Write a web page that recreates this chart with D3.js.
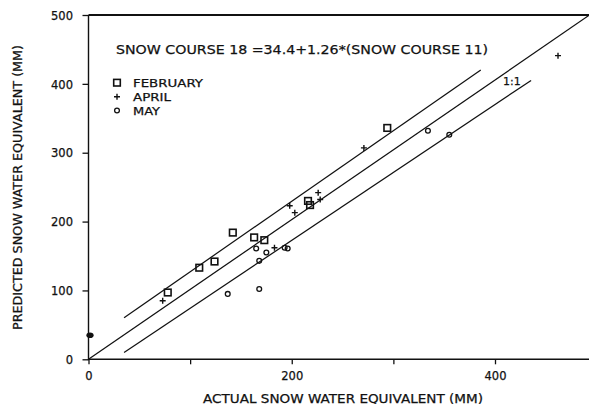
<!DOCTYPE html>
<html>
<head>
<meta charset="utf-8">
<script src="https://cdn.jsdelivr.net/npm/d3@7"></script>
<style>
  html, body { margin: 0; padding: 0; background: #fff; }
  svg { display: block; }
  text { font-family: "DejaVu Sans", sans-serif; fill: #111; stroke: #111; stroke-width: 0.25px; }
</style>
</head>
<body>
<svg id="chart" width="589" height="404"></svg>
<script>
// ---- data ----
const xTicks = [0, 100, 200, 300, 400];
const xTickLabels = ["0", "", "200", "", "400"];
const yTicks = [0, 100, 200, 300, 400, 500];
const yTickLabels = ["0", "100", "200", "300", "400", "500"];

const februaryX = [78, 109, 124, 142, 163, 173, 216, 218, 294];
const februaryY = [97, 133, 142, 184, 177, 173, 230, 224, 336];

const aprilX = [73, 183, 198, 203, 226, 228, 271, 462];
const aprilY = [85, 162, 223, 213, 242, 232, 307, 441];

const mayX = [137, 168, 168, 165, 175, 193, 196, 334, 355];
const mayY = [95, 102, 143, 161, 155, 162, 161, 332, 326];

const interceptX = [0];
const interceptY = [35];

const lineOneToOne = [[0, 0], [493, 500]];
const lineUpper = [[35, 60.5], [386, 420]];
const lineLower = [[35, 10], [435.5, 405]];

const titleText = "SNOW COURSE 18 =34.4+1.26*(SNOW COURSE 11)";
const legendNames = ["FEBRUARY", "APRIL", "MAY"];
const xTitle = "ACTUAL SNOW WATER EQUIVALENT (MM)";
const yTitle = "PREDICTED SNOW WATER EQUIVALENT (MM)";
const lineLabel = "1:1";

// ---- drawing ----
const svg = d3.select("#chart");
const x = d3.scaleLinear().domain([0, 400]).range([88.5, 495]);
const y = d3.scaleLinear().domain([0, 500]).range([359.3, 15]);

const ink = "#111";

svg.append("clipPath").attr("id", "plotclip")
  .append("rect").attr("x", x(0)).attr("y", y(500)).attr("width", 589 - x(0)).attr("height", y(0) - y(500));

// axes
const xAxis = d3.axisBottom(x).tickValues(xTicks).tickSize(5)
  .tickFormat((d, i) => xTickLabels[i]);
const yAxis = d3.axisLeft(y).tickValues(yTicks).tickSize(6)
  .tickFormat((d, i) => yTickLabels[i]);

const gx = svg.append("g").attr("transform", `translate(0,${y(0)})`).call(xAxis);
gx.select(".domain").remove();
gx.selectAll(".tick line").attr("stroke", ink).attr("stroke-width", 1.3);
gx.selectAll(".tick text").attr("dy", null).attr("y", 21).style("font-size", "11.5px")
  .attr("fill", ink).attr("font-family", null);

const gy = svg.append("g").attr("transform", `translate(${x(0)},0)`).call(yAxis);
gy.select(".domain").remove();
gy.selectAll(".tick line").attr("stroke", ink).attr("stroke-width", 1.3);
gy.selectAll(".tick text").attr("x", -15.5).attr("dy", "0.36em").style("font-size", "11.5px")
  .attr("fill", ink).attr("font-family", null);

// frame lines (left, bottom, top)
svg.append("line").attr("x1", x(0)).attr("x2", 589).attr("y1", y(0)).attr("y2", y(0))
  .attr("stroke", ink).attr("stroke-width", 1.6);
svg.append("line").attr("x1", x(0)).attr("x2", 589).attr("y1", y(500)).attr("y2", y(500))
  .attr("stroke", ink).attr("stroke-width", 1.8);
svg.append("line").attr("x1", x(0)).attr("x2", x(0)).attr("y1", y(0) + 1).attr("y2", y(500))
  .attr("stroke", ink).attr("stroke-width", 1.4);

// lines
const lineGen = d3.line().x(d => x(d[0])).y(d => y(d[1]));
[lineOneToOne, lineUpper, lineLower].forEach(l => {
  svg.append("path").attr("d", lineGen(l)).attr("fill", "none")
    .attr("stroke", ink).attr("stroke-width", 1.25).attr("clip-path", "url(#plotclip)");
});

// markers
function drawSquare(g, cx, cy) {
  g.append("rect").attr("x", cx - 3.3).attr("y", cy - 3.3).attr("width", 6.6).attr("height", 6.6)
    .attr("fill", "none").attr("stroke", ink).attr("stroke-width", 1.6);
}
function drawPlus(g, cx, cy) {
  g.append("path").attr("d", `M${cx - 3},${cy}H${cx + 3}M${cx},${cy - 3}V${cy + 3}`)
    .attr("stroke", ink).attr("stroke-width", 1.4).attr("fill", "none");
}
function drawDiamond(g, cx, cy) {
  g.append("circle").attr("cx", cx).attr("cy", cy).attr("r", 2.4)
    .attr("fill", "none").attr("stroke", ink).attr("stroke-width", 1.3);
}

const gm = svg.append("g");
februaryX.forEach((v, i) => drawSquare(gm, x(v), y(februaryY[i])));
aprilX.forEach((v, i) => drawPlus(gm, x(v), y(aprilY[i])));
mayX.forEach((v, i) => drawDiamond(gm, x(v), y(mayY[i])));
interceptX.forEach((v, i) => {
  gm.append("ellipse").attr("cx", x(v) + 1.5).attr("cy", y(interceptY[i])).attr("rx", 3.6).attr("ry", 2.8)
    .attr("fill", ink);
});

// title / equation
svg.append("text").attr("x", 116).attr("y", 53.5).text(titleText)
  .style("font-size", "13px").attr("textLength", 372).attr("lengthAdjust", "spacingAndGlyphs");

// legend
const legY = [82.7, 96.7, 110.5];
const legLen = [70, 38, 27];
drawSquare(svg, 117, legY[0]);
drawPlus(svg, 117, legY[1]);
drawDiamond(svg, 117, legY[2]);
legendNames.forEach((n, i) => {
  svg.append("text").attr("x", 133).attr("y", legY[i] + 4.2).text(n)
    .style("font-size", "11px").attr("textLength", legLen[i]).attr("lengthAdjust", "spacingAndGlyphs");
});

// 1:1 label
svg.append("text").attr("x", 503).attr("y", 85).text(lineLabel).style("font-size", "11px");

// axis titles
svg.append("text").attr("x", 203).attr("y", 402.5).text(xTitle)
  .style("font-size", "12px").attr("textLength", 280).attr("lengthAdjust", "spacingAndGlyphs");
svg.append("text").attr("transform", "translate(21.5,330) rotate(-90)").text(yTitle)
  .style("font-size", "12px").attr("textLength", 285).attr("lengthAdjust", "spacingAndGlyphs");
</script>
</body>
</html>
